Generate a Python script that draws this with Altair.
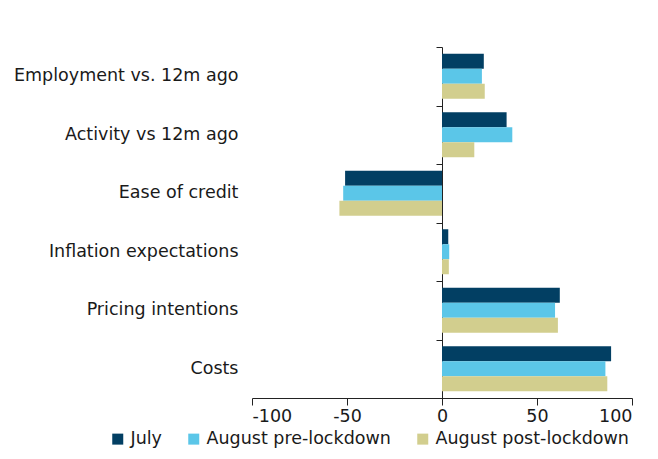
import altair as alt
import pandas as pd

categories = ["Employment vs. 12m ago", "Activity vs 12m ago", "Ease of credit",
              "Inflation expectations", "Pricing intentions", "Costs"]
series = ["July", "August pre-lockdown", "August post-lockdown"]
july = [22, 34, -51, 3.3, 62, 89]
aug_pre = [21, 37, -52, 3.8, 59.5, 86]
aug_post = [22.5, 17, -54, 3.6, 61, 87]
colors = ["#023F63", "#5BC6E8", "#D2CE8E"]
x_ticks = [-100, -50, 0, 50, 100]

rows = []
for i, c in enumerate(categories):
    for s, vals in zip(series, [july, aug_pre, aug_post]):
        rows.append({"category": c, "series": s, "value": vals[i]})
df = pd.DataFrame(rows)

FONT = "DejaVu Sans"
FS = 17.5
TXT = "#1a1a1a"
LINE = "#222222"

xenc = alt.X("value:Q", scale=alt.Scale(domain=[-100, 100]),
             axis=alt.Axis(title=None, values=x_ticks, grid=False,
                           tickSize=7, domainColor=LINE, tickColor=LINE,
                           labelExpr="toString(datum.value)",
                           labelFontSize=FS, labelFont=FONT, labelColor=TXT,
                           labelPadding=2))

yoff = alt.YOffset("series:N", sort=series,
                   scale=alt.Scale(paddingOuter=0.45, paddingInner=0))

bars = alt.Chart(df).mark_bar().encode(
    y=alt.Y("category:N", sort=categories,
            scale=alt.Scale(paddingInner=0, paddingOuter=0),
            axis=alt.Axis(title=None, ticks=False, domain=False,
                          labelPadding=14, labelFontSize=FS,
                          labelFont=FONT, labelColor=TXT, labelLimit=400)),
    yOffset=yoff,
    x=xenc,
    color=alt.Color("series:N", sort=series,
                    scale=alt.Scale(domain=series, range=colors),
                    legend=alt.Legend(title=None, orient="none", direction="horizontal",
                                      legendX=-143, legendY=383, padding=0,
                                      symbolType="square", symbolSize=121,
                                      symbolStrokeWidth=0, symbolOpacity=1,
                                      labelFontSize=FS, labelFont=FONT,
                                      labelColor=TXT, labelOffset=4,
                                      labelLimit=400, columnPadding=23)),
)

axis_layer = alt.Chart(df).mark_bar(opacity=0).encode(
    y=alt.Y("category:N", sort=categories,
            scale=alt.Scale(paddingInner=0, paddingOuter=0),
            axis=alt.Axis(title=None, orient="left", offset=-190, labels=False,
                          ticks=True, tickBand="extent", tickSize=6,
                          domain=True, domainColor=LINE, tickColor=LINE)),
    yOffset=yoff,
    x=xenc,
)

chart = alt.layer(bars, axis_layer).resolve_axis(y="independent").properties(
    width=380, height=351,
    autosize=alt.AutoSizeParams(type="none"),
    padding={"left": 244, "top": 39, "right": 18, "bottom": 53},
).configure_view(stroke=None)

chart.save("out.html", embed_options={"renderer": "svg", "actions": False})
